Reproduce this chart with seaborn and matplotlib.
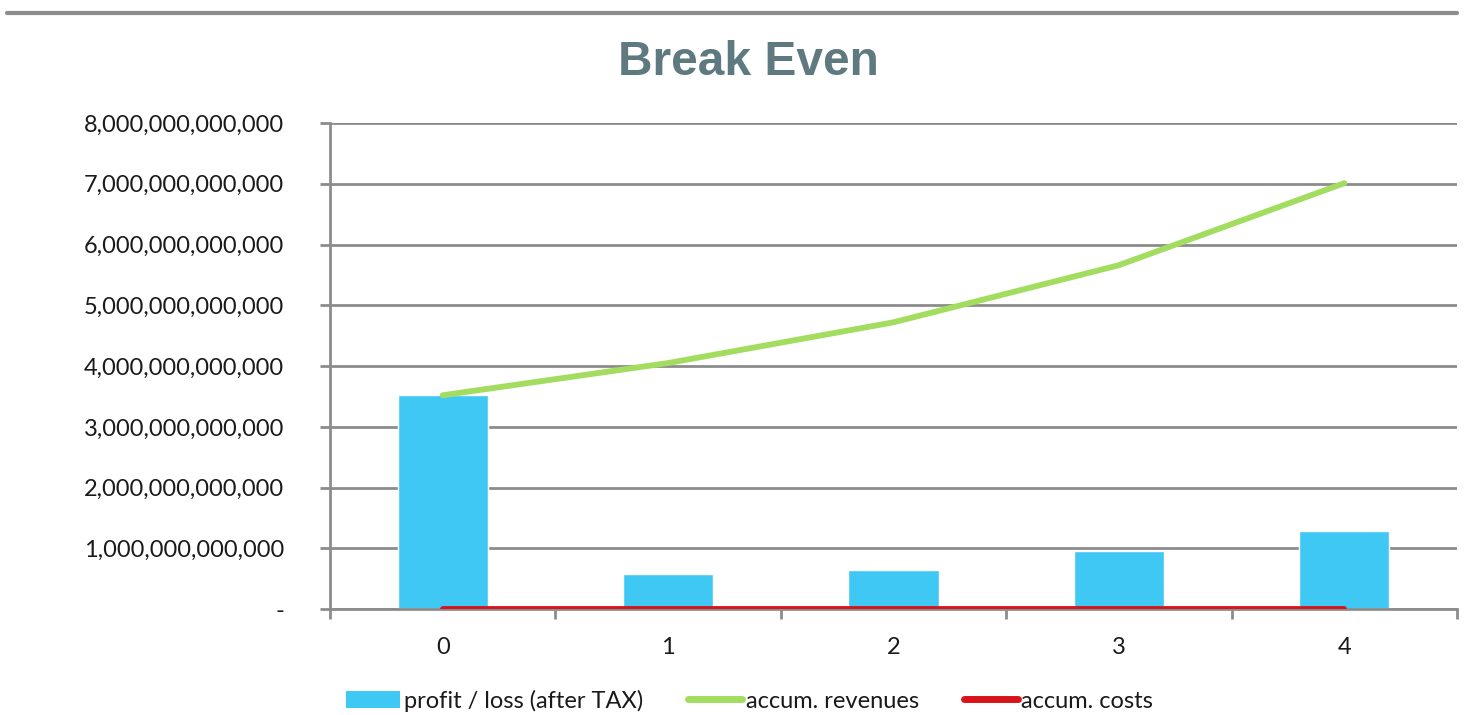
import matplotlib
matplotlib.use("Agg")
import matplotlib.pyplot as plt
import matplotlib.ticker as mticker
from matplotlib.patches import Patch
from matplotlib.lines import Line2D
import seaborn as sns
import pandas as pd
import numpy as np

years = [0, 1, 2, 3, 4]
profit_loss = [3.52e12, 0.58e12, 0.64e12, 0.955e12, 1.28e12]
accum_revenues = [3.52e12, 4.05e12, 4.72e12, 5.66e12, 7.01e12]
accum_costs = [0.0, 0.0, 0.0, 0.0, 0.0]
y_ticks = [0, 1e12, 2e12, 3e12, 4e12, 5e12, 6e12, 7e12, 8e12]

sns.set_theme(style="white")
plt.rcParams['font.family'] = ['Lato', 'DejaVu Sans']

df = pd.DataFrame({"year": years, "profit": profit_loss,
                   "rev": accum_revenues, "cost": accum_costs})

fig = plt.figure(figsize=(14.64, 7.15), dpi=100)
ax = fig.add_axes([0.2254, 0.148, 0.7698, 0.680])

bar_color = "#40c8f4"
green = "#a3dd5f"
red = "#d7141a"
grid_c = "#8c8c8c"

sns.barplot(data=df, x="year", y="profit", color=bar_color, width=0.4,
            saturation=1, ax=ax, zorder=2)
xs = np.arange(len(years))
sns.lineplot(x=xs, y=df["rev"], color=green, linewidth=4.2, ax=ax, zorder=3,
             solid_capstyle="round")
sns.lineplot(x=xs, y=df["cost"], color=red, linewidth=4.2, ax=ax, zorder=3,
             solid_capstyle="round")

ax.set_xlim(-0.5, 4.5)
ax.set_ylim(0, 8e12)
ax.set_yticks(y_ticks)
ax.yaxis.set_major_formatter(mticker.FuncFormatter(
    lambda v, p: "-" if v == 0 else f"{v:,.0f}"))
ax.set_xticks(xs)
ax.set_xticklabels([str(y) for y in years])
ax.set_xticks(np.arange(-0.5, 5.0, 1.0), minor=True)
ax.set_xlabel("")
ax.set_ylabel("")

ax.grid(axis="y", color=grid_c, linewidth=2, zorder=0)
ax.set_axisbelow(True)
for s in ["top", "right"]:
    ax.spines[s].set_visible(False)
ax.spines["left"].set_color(grid_c)
ax.spines["left"].set_linewidth(2)
ax.spines["bottom"].set_color(grid_c)
ax.spines["bottom"].set_linewidth(2)

ax.tick_params(axis="y", which="major", length=7, width=2, color=grid_c,
               labelsize=17, labelcolor="#1a1a1a", pad=26, left=True)
ax.tick_params(axis="x", which="major", length=0, labelsize=17,
               labelcolor="#1a1a1a", pad=20)
ax.tick_params(axis="x", which="minor", length=7, width=2, color=grid_c,
               bottom=True)

fig.text(0.511, 0.912, "Break Even", ha="center", va="center",
         fontsize=34.5, fontweight="bold", color="#5e7a80",
         family=["Liberation Sans", "DejaVu Sans"])

fig.add_artist(Line2D([0.005, 0.995], [0.982, 0.982], transform=fig.transFigure,
                      color="#8c8c8c", linewidth=3))

handles = [Patch(facecolor=bar_color, edgecolor="none"),
           Line2D([0], [0], color=green, linewidth=5),
           Line2D([0], [0], color=red, linewidth=5)]
labels = ["profit / loss (after TAX)", "accum. revenues", "accum. costs"]
fig.legend(handles, labels, loc="center", bbox_to_anchor=(0.512, 0.02),
           ncol=3, frameon=False, fontsize=17, handlelength=2.3,
           handleheight=0.75, handletextpad=0.15, columnspacing=1.9,
           labelcolor="#1a1a1a")

fig.savefig("out.png", dpi=100)
